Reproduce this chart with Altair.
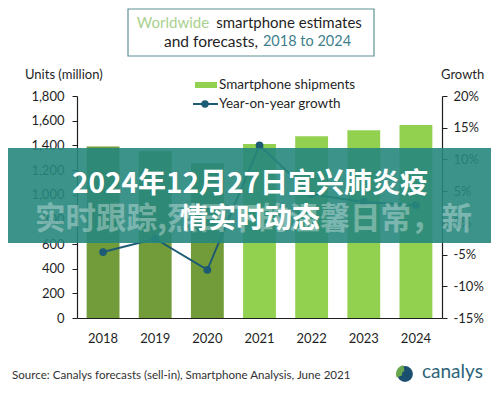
import altair as alt
import pandas as pd

# ---- data ----
years = ["2018", "2019", "2020", "2021", "2022", "2023", "2024"]
shipments = [1390, 1355, 1255, 1410, 1473, 1522, 1565]
growth = [-4.6, -2.5, -7.4, 12.2, 4.5, 3.3, 2.8]
kind = ["Actual", "Actual", "Actual", "Forecast", "Forecast", "Forecast", "Forecast"]
left_ticks = [0, 200, 400, 600, 800, 1000, 1200, 1400, 1600, 1800]
right_ticks = [-15, -10, -5, 0, 5, 10, 15, 20]

df = pd.DataFrame({"year": years, "shipments": shipments, "growth": growth, "kind": kind})

W, H = 365, 222
FONT = "Lato"
DARK = "#1f1f1f"
LINE_C = "#1d5b74"
BAR_LIGHT = "#92d050"
BAR_DARK = "#729b3a"

xenc = alt.X("year:O", title=None,
             scale=alt.Scale(paddingInner=0.37, paddingOuter=0.185),
             axis=alt.Axis(labelAngle=0, ticks=False, labelPadding=14, labelFontSize=13,
                           labelColor=DARK, labelFont=FONT, domainColor=DARK, domainWidth=1.2))

bars = alt.Chart(df).mark_bar().encode(
    x=xenc,
    y=alt.Y("shipments:Q", title=None,
            scale=alt.Scale(domain=[0, 1800], nice=False),
            axis=alt.Axis(orient="left", values=left_ticks, format=",.0f", grid=False,
                          tickSize=5, tickColor=DARK, labelPadding=8, labelFontSize=13,
                          labelColor=DARK, labelFont=FONT, domainColor=DARK, domainWidth=1.2)),
    color=alt.Color("kind:N", scale=alt.Scale(domain=["Actual", "Forecast"], range=[BAR_DARK, BAR_LIGHT]),
                    legend=None),
)

line_base = alt.Chart(df).encode(
    x=alt.X("year:O"),
    y=alt.Y("growth:Q", title=None,
            scale=alt.Scale(domain=[-15, 20], nice=False),
            axis=alt.Axis(orient="right", values=right_ticks, labelExpr="datum.value + '%'",
                          grid=False, tickSize=5, tickColor=DARK, labelPadding=6,
                          labelFontSize=13, labelColor=DARK, labelFont=FONT,
                          domainColor=DARK, domainWidth=1.2)),
)
line = line_base.mark_line(color=LINE_C, strokeWidth=2)
pts = line_base.mark_point(filled=True, color=LINE_C, size=60, opacity=1)

main = alt.layer(bars, line + pts).resolve_scale(y="independent")

one = pd.DataFrame({"t": [""]})


def txt(text, x, y, size, color, align="left", weight="normal", font=FONT, opacity=1.0):
    return alt.Chart(pd.DataFrame({"t": [text]})).mark_text(
        align=align, baseline="middle", fontSize=size, color=color, font=font,
        fontWeight=weight, opacity=opacity
    ).encode(x=alt.value(x), y=alt.value(y), text="t:N")


# title box
title_box = alt.Chart(one).mark_rect(fill="white", stroke="#5e9294", strokeWidth=1.2).encode(
    x=alt.value(51), x2=alt.value(297), y=alt.value(-87), y2=alt.value(-40))
t1a = txt("Worldwide", 96, -73, 15, "#a9d18e", align="center")
t1b = txt("smartphone estimates", 212, -73, 15, DARK, align="center")
t2a = txt("and forecasts,", 134, -54, 15.5, DARK, align="center")
t2b = txt("2018 to 2024", 230, -54, 14.5, "#3f7f8c", align="center")

units = txt("Units (million)", -52, -21, 13, DARK)
growth_t = txt("Growth", 364, -21, 13, DARK)

# legend
leg_rect = alt.Chart(one).mark_rect(color=BAR_LIGHT).encode(
    x=alt.value(118), x2=alt.value(140), y=alt.value(-14), y2=alt.value(-8))
leg_t1 = txt("Smartphone shipments", 142, -11, 13.5, DARK)
leg_line = alt.Chart(one).mark_rule(color=LINE_C, strokeWidth=2).encode(
    x=alt.value(116), x2=alt.value(141), y=alt.value(8))
leg_pt = alt.Chart(one).mark_point(filled=True, color=LINE_C, size=55, opacity=1).encode(
    x=alt.value(128), y=alt.value(8))
leg_t2 = txt("Year-on-year growth", 142, 8, 13.5, DARK)

# footer
source = txt("Source: Canalys forecasts (sell-in), Smartphone Analysis, June 2021", -65, 280, 11.6, "#333333")
globe = alt.Chart(one).mark_point(filled=True, color="#1b4f70", size=250, opacity=1).encode(
    x=alt.value(328), y=alt.value(278))
globe_arc = alt.Chart(one).mark_arc(radius=9, radius2=3, theta=4.3, theta2=6.1, color="#6aa84f").encode(
    x=alt.value(328), y=alt.value(278))
canalys = txt("canalys", 345, 276, 19, "#2e6478")

# overlay banner
banner = alt.Chart(one).mark_rect(color="#27877d", opacity=0.9).encode(
    x=alt.value(-77), x2=alt.value(414), y=alt.value(52), y2=alt.value(147))
ghost = txt("实时跟踪,烈日下的温馨日常，新", -42, 124, 30.5, "white", weight="bold",
            font="Noto Sans CJK SC", opacity=0.33)
head1 = txt("2024年12月27日宜兴肺炎疫", 173, 89, 28, "white", align="center", weight="bold",
            font="Noto Sans CJK SC")
head2 = txt("情实时动态", 173, 124, 28, "white", align="center", weight="bold",
            font="Noto Sans CJK SC")

chart = alt.layer(
    main, title_box, t1a, t1b, t2a, t2b, units, growth_t,
    leg_rect, leg_t1, leg_line, leg_pt, leg_t2,
    source, globe, globe_arc, canalys,
    banner, ghost, head1, head2,
).properties(
    width=W, height=H,
    autosize=alt.AutoSizeParams(type="none"),
    padding={"left": 69, "top": 88, "right": 49, "bottom": 64},
).configure_view(stroke=None)

chart.save("out.html", embed_options={"renderer": "svg", "actions": False})
